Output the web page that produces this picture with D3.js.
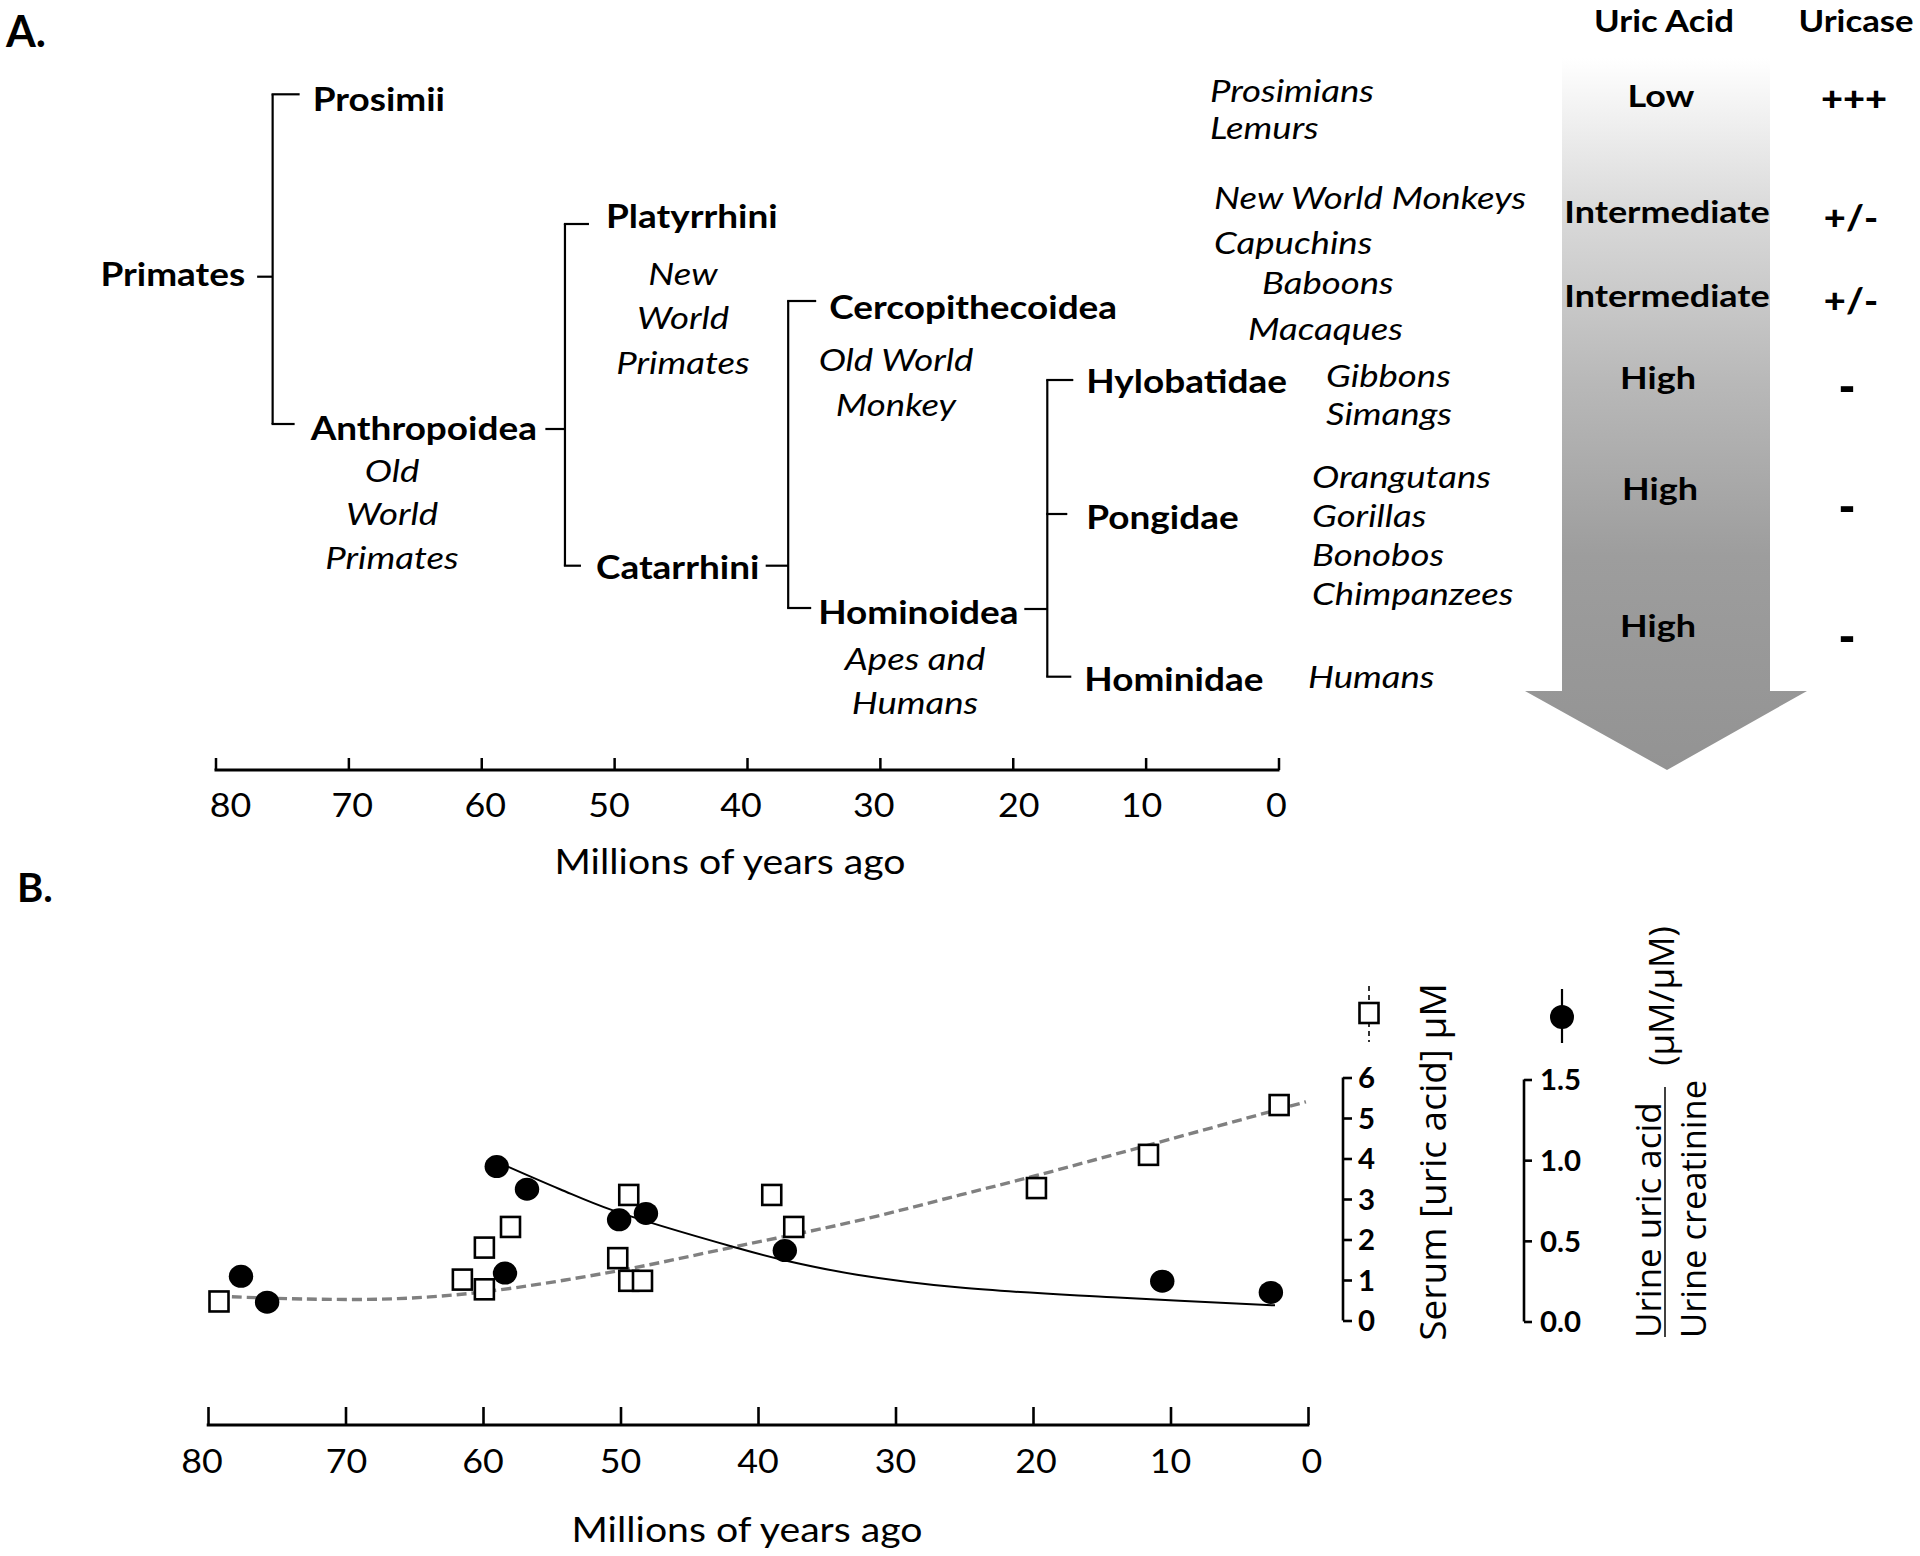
<!DOCTYPE html>
<html><head><meta charset="utf-8">
<script src="https://cdn.jsdelivr.net/npm/d3@7"></script>
<style>html,body{margin:0;padding:0;background:#fff;}svg{display:block;}</style>
</head><body>
<script>
// ---------------- DATA ----------------
const axisTicksA = [80,70,60,50,40,30,20,10,0];
const axisTicksB = [80,70,60,50,40,30,20,10,0];
const xTitle = "Millions of years ago";

// Internal tree nodes and their divergence times (Mya)
const internalNodes = ["Primates","Anthropoidea","Catarrhini","Hominoidea"];
const nodeMya = [75.7, 53.7, 36.9, 17.4];
const nodeChildren = [["Prosimii","Anthropoidea"],["Platyrrhini","Catarrhini"],["Cercopithecoidea","Hominoidea"],["Hylobatidae","Pongidae","Hominidae"]];

// Common-name captions under clades
const cladeCaptionOf = ["Anthropoidea","Platyrrhini","Cercopithecoidea","Hominoidea"];
const cladeCaptions = [["Old","World","Primates"],["New","World","Primates"],["Old World","Monkey"],["Apes and","Humans"]];

// Species lists
const speciesGroups = [["Prosimians","Lemurs"],["New World Monkeys","Capuchins"],["Baboons"],["Macaques"],["Gibbons","Simangs"],["Orangutans","Gorillas","Bonobos","Chimpanzees"],["Humans"]];

// Right-hand columns
const columnHeaders = ["Uric Acid","Uricase"];
const uricAcidLevels = ["Low","Intermediate","Intermediate","High","High","High"];
const uricaseActivity = ["+++","+/-","+/-","-","-","-"];

// Panel B: serum uric acid (open squares)
const serumMya = [79.2, 61.5, 59.9, 59.9, 58.0, 50.2, 49.4, 49.4, 48.4, 39.0, 37.4, 19.75, 11.6, 2.1];
const serumUM  = [0.47, 1.01, 0.77, 1.80, 2.31, 1.54, 3.10, 0.98, 0.98, 3.10, 2.31, 3.27, 4.09, 5.32];
// Panel B: urine uric acid / creatinine (filled circles)
const urineMya = [77.6, 75.7, 59.0, 56.8, 58.4, 50.1, 48.15, 38.05, 10.6, 2.7];
const urineRatio = [0.28, 0.12, 0.96, 0.82, 0.30, 0.63, 0.67, 0.44, 0.25, 0.18];
// Fitted curves
const serumFitMya = [79.35, 72.9, 66.2, 59.9, 50.6, 41.7, 32.8, 25.3, 19.75, 11.6, 0.15];
const serumFitUM  = [0.60, 0.53, 0.54, 0.71, 1.20, 1.82, 2.46, 3.10, 3.58, 4.33, 5.40];
const urineFitMya = [58.2, 54.4, 50.6, 41.7, 38.1, 32.8, 25.3, 14.2, 2.4];
const urineFitRatio = [0.96, 0.82, 0.69, 0.46, 0.38, 0.29, 0.21, 0.15, 0.10];

const serumTicks = [0,1,2,3,4,5,6];
const urineTicks = [0,0.5,1.0,1.5];
const serumTitle = "Serum [uric acid] \u03bcM";
const urineNum = "Urine uric acid";
const urineDen = "Urine creatinine";
const urineUnit = "(\u03bcM/\u03bcM)";

// ---------------- DRAW ----------------
const W = 1920, H = 1556;
const svg = d3.select("body").append("svg").attr("width", W).attr("height", H);
const CAL = "Lato, 'Open Sans', sans-serif";
const SANS = "'Open Sans', 'DejaVu Sans', sans-serif";

function txt(parent, s, x, y, o) {
  const g = parent.append("g").attr("transform", `translate(${x},${y}) scale(${o.sx || 1.12},1)`);
  return g.append("text").text(s)
    .attr("font-family", o.family || CAL)
    .attr("font-size", o.size)
    .attr("font-weight", o.weight || "normal")
    .attr("font-style", o.style || "normal")
    .attr("text-anchor", o.anchor || "start")
    .attr("dominant-baseline", o.base || "central")
    .attr("fill", "#000");
}

// ===== Panel A =====
const A = svg.append("g");
txt(A, "A.", 6, 47, {size: 43, weight: "bold", base: "alphabetic", sx: 1.0});

const xA = d3.scaleLinear().domain([80, 0]).range([215.5, 1278.5]);
const axA = A.append("g").attr("transform", "translate(0,770)")
  .call(d3.axisBottom(xA).tickValues(axisTicksA).tickSize(0).tickPadding(0).tickFormat(""));
axA.select(".domain").remove();
A.append("line").attr("x1", xA(80) - 1).attr("x2", xA(0) + 1).attr("y1", 770).attr("y2", 770)
  .attr("stroke", "#000").attr("stroke-width", 3);
axA.selectAll(".tick line").attr("y2", -12).attr("stroke", "#000").attr("stroke-width", 2.5);
const tickDxA = [15, 4, 4, -5, -6, -6, 6, -4, -2];
axisTicksA.forEach((t, i) => txt(A, String(t), xA(t) + tickDxA[i], 804, {size: 32, anchor: "middle"}));
txt(A, xTitle, 730, 860, {size: 35, anchor: "middle"});

// Tree layout (vertical rows are layout, x comes from divergence times)
const rowY = {Prosimii: 94.3, Anthropoidea: 424, Platyrrhini: 224, Catarrhini: 565.7,
  Cercopithecoidea: 301, Hominoidea: 608, Hylobatidae: 380, Pongidae: 514, Hominidae: 676.7};
const branchLen = {Prosimii: 27, Anthropoidea: 22, Platyrrhini: 24, Catarrhini: 16,
  Cercopithecoidea: 28, Hominoidea: 23, Hylobatidae: 26, Pongidae: 20, Hominidae: 24};
const labelY = {Primates: 273, Prosimii: 98, Anthropoidea: 427, Platyrrhini: 215, Catarrhini: 566,
  Cercopithecoidea: 306, Hominoidea: 611, Hylobatidae: 380, Pongidae: 516, Hominidae: 678};
const labelGap = {Prosimii: 13, Anthropoidea: 16, Platyrrhini: 17, Catarrhini: 15,
  Cercopithecoidea: 13, Hominoidea: 7, Hylobatidae: 13, Pongidae: 19, Hominidae: 13};
const stub = {Primates: [15.5, 276.7], Anthropoidea: [19.6, 429], Catarrhini: [22.5, 565.7], Hominoidea: [23, 609]};
const treeG = A.append("g").attr("stroke", "#000").attr("stroke-width", 2.2).attr("fill", "none");
const TREE = {size: 33, weight: "bold", sx: 1.12};

internalNodes.forEach((n, i) => {
  const x = xA(nodeMya[i]);
  const kids = nodeChildren[i];
  const ys = kids.map(k => rowY[k]);
  treeG.append("line").attr("x1", x).attr("x2", x).attr("y1", d3.min(ys)).attr("y2", d3.max(ys));
  kids.forEach(k => {
    treeG.append("line").attr("x1", x - 1.1).attr("x2", x + branchLen[k]).attr("y1", rowY[k]).attr("y2", rowY[k]);
    txt(A, k, x + branchLen[k] + labelGap[k], labelY[k], TREE);
  });
  const [len, sy] = stub[n];
  treeG.append("line").attr("x1", x - len).attr("x2", x).attr("y1", sy).attr("y2", sy);
  if (n === "Primates") txt(A, "Primates", x - len - 12, labelY.Primates, Object.assign({anchor: "end"}, TREE));
});

// Captions
const ITAL = {size: 31, style: "italic", sx: 1.18};
const captionPos = [[392, 470, 43.5], [683, 273, 44.5], [896, 359, 45], [915, 658, 44]];
cladeCaptions.forEach((lines, i) => {
  const [cx, cy, dy] = captionPos[i];
  lines.forEach((l, j) => txt(A, l, cx, cy + j * dy, Object.assign({anchor: "middle"}, ITAL)));
});

// Species
const speciesPos = [[1210, 90, 36.7], [1214, 196.7, 45], [1262, 281.7, 0], [1248, 328.3, 0], [1326, 375, 38.3], [1312, 476, 39.1], [1308, 676, 0]];
speciesGroups.forEach((grp, i) => {
  const [sx, sy, dy] = speciesPos[i];
  grp.forEach((s, j) => txt(A, s, sx, sy + j * dy, ITAL));
});

// Gradient arrow
const defs = svg.append("defs");
const grad = defs.append("linearGradient").attr("id", "arrowGrad").attr("x1", 0).attr("y1", 0).attr("x2", 0).attr("y2", 1);
[[0, "#ffffff"], [0.2, "#dcdcdc"], [0.45, "#b9b9b9"], [0.7, "#9d9d9d"], [1, "#939393"]]
  .forEach(([o, c]) => grad.append("stop").attr("offset", o).attr("stop-color", c));
A.append("path").attr("d", "M1562,58 H1770 V691 H1807 L1667,770 L1525,691 H1562 Z")
  .attr("fill", "url(#arrowGrad)");

// Column headers and values
const colX = [1664, 1856];
columnHeaders.forEach((h, i) => txt(A, h, colX[i], 20, {size: 31, weight: "bold", anchor: "middle"}));
const levelY = [95, 210.7, 295, 376.7, 488, 625];
const levelX = [1661, 1667, 1667, 1658, 1660, 1658];
uricAcidLevels.forEach((l, i) => txt(A, l, levelX[i], levelY[i], {size: 31, weight: "bold", anchor: "middle", sx: 1.16}));
const activityY = [98.3, 216.7, 300, 383.3, 503, 633];
const activityX = [1854, 1851, 1851, 1847, 1847, 1847];
uricaseActivity.forEach((l, i) => {
  const dash = l === "-";
  txt(A, l, activityX[i], activityY[i] + (dash ? 2 : 0), {size: dash ? 52 : 34, weight: "900", anchor: "middle", sx: dash ? 0.9 : 1.12});
});

// ===== Panel B =====
const B = svg.append("g");
txt(B, "B.", 17, 902, {size: 40, weight: "bold", base: "alphabetic", sx: 1.0});

const xB = d3.scaleLinear().domain([80, 0]).range([208, 1308]);
const yS = d3.scaleLinear().domain([0, 6]).range([1320.5, 1077.5]);
const yU = d3.scaleLinear().domain([0, 1.5]).range([1321.5, 1079.5]);

const axB = B.append("g").attr("transform", "translate(0,1425)")
  .call(d3.axisBottom(xB).tickValues(axisTicksB).tickSize(0).tickFormat(""));
axB.select(".domain").remove();
B.append("line").attr("x1", xB(80) - 1.3).attr("x2", xB(0) + 1.3).attr("y1", 1425).attr("y2", 1425)
  .attr("stroke", "#000").attr("stroke-width", 3);
axB.selectAll(".tick line").attr("y2", -18).attr("stroke", "#000").attr("stroke-width", 2.6);
const tickDxB = [-6, 1, 0, 0, 0, 0, 3, 0, 4];
axisTicksB.forEach((t, i) => txt(B, String(t), xB(t) + tickDxB[i], 1460, {size: 32, anchor: "middle"}));
txt(B, xTitle, 747, 1528, {size: 35, anchor: "middle"});

// Serum y axis (bracket style)
const axS = B.append("g").attr("transform", "translate(1343,0)")
  .call(d3.axisRight(yS).tickValues(serumTicks).tickSize(9).tickFormat(""));
axS.select(".domain").attr("d", `M0,${yS(0)}V${yS(6)}`).attr("stroke-width", 2.6);
axS.selectAll(".tick line").attr("stroke-width", 2.6);
serumTicks.forEach(t => txt(B, String(t), 1358, yS(t), {size: 28, weight: "bold", sx: 1.05}));

// Urine y axis
const axU = B.append("g").attr("transform", "translate(1524,0)")
  .call(d3.axisRight(yU).tickValues(urineTicks).tickSize(8).tickFormat(""));
axU.select(".domain").attr("d", `M0,${yU(0)}V${yU(1.5)}`).attr("stroke-width", 2.6);
axU.selectAll(".tick line").attr("stroke-width", 2.6);
urineTicks.forEach(t => txt(B, d3.format(".1f")(t), 1540, yU(t), {size: 28, weight: "bold", sx: 1.05}));

// Axis titles (rotated)
function rot(parent, s, x, y, o) {
  parent.append("text").text(s).attr("transform", `translate(${x},${y}) rotate(-90)`)
    .attr("font-family", SANS).attr("font-size", o.size).attr("text-anchor", o.anchor || "middle")
    .attr("dominant-baseline", "central").attr("fill", "#000");
}
rot(B, serumTitle, 1431, 1162, {size: 37});
rot(B, urineNum, 1647, 1338, {size: 35, anchor: "start"});
rot(B, urineDen, 1692, 1338, {size: 34.5, anchor: "start"});
B.append("line").attr("x1", 1665).attr("x2", 1665).attr("y1", 1087).attr("y2", 1337).attr("stroke", "#000").attr("stroke-width", 1.5);
rot(B, urineUnit, 1660, 996, {size: 35});

// Legend symbols
B.append("line").attr("x1", 1369).attr("x2", 1369).attr("y1", 986).attr("y2", 1042)
  .attr("stroke", "#333").attr("stroke-width", 2).attr("stroke-dasharray", "5,4");
B.append("rect").attr("x", 1369 - 9.5).attr("y", 1013 - 10).attr("width", 19).attr("height", 20)
  .attr("fill", "#fff").attr("stroke", "#000").attr("stroke-width", 2.6);
B.append("line").attr("x1", 1562).attr("x2", 1562).attr("y1", 989).attr("y2", 1043)
  .attr("stroke", "#000").attr("stroke-width", 2.2);
B.append("circle").attr("cx", 1562).attr("cy", 1017).attr("r", 12).attr("fill", "#000");

// Fitted curves
const lineS = d3.line().x(d => xB(d[0])).y(d => yS(d[1])).curve(d3.curveCatmullRom);
const lineU = d3.line().x(d => xB(d[0])).y(d => yU(d[1])).curve(d3.curveCatmullRom);
B.append("path").attr("d", lineS(d3.zip(serumFitMya, serumFitUM)))
  .attr("fill", "none").attr("stroke", "#808080").attr("stroke-width", 3.4).attr("stroke-dasharray", "10,5");
B.append("path").attr("d", lineU(d3.zip(urineFitMya, urineFitRatio)))
  .attr("fill", "none").attr("stroke", "#000").attr("stroke-width", 2);

// Points
B.selectAll("rect.sq").data(d3.zip(serumMya, serumUM)).join("rect").attr("class", "sq")
  .attr("x", d => xB(d[0]) - 9.5).attr("y", d => yS(d[1]) - 10).attr("width", 19).attr("height", 20)
  .attr("fill", "#fff").attr("stroke", "#000").attr("stroke-width", 2.6);
B.selectAll("ellipse.pt").data(d3.zip(urineMya, urineRatio)).join("ellipse").attr("class", "pt")
  .attr("cx", d => xB(d[0])).attr("cy", d => yU(d[1])).attr("rx", 12.2).attr("ry", 11.5).attr("fill", "#000");
</script>
</body></html>
